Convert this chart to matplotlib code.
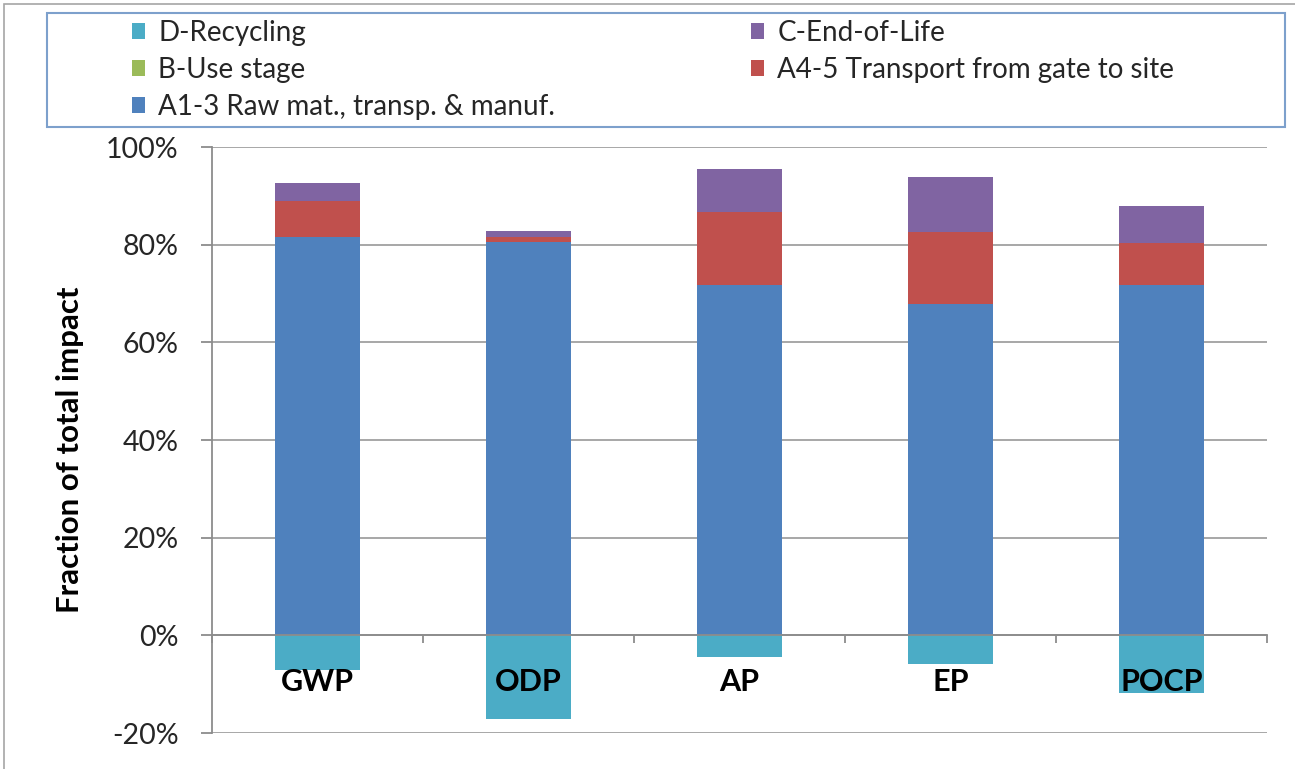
import matplotlib
matplotlib.use("Agg")
import matplotlib.pyplot as plt
from matplotlib.patches import Rectangle
from matplotlib.ticker import FuncFormatter, FixedLocator
import numpy as np

categories = ["GWP", "ODP", "AP", "EP", "POCP"]
a13_raw = [81.6, 80.5, 71.7, 67.8, 71.7]
a45_transport = [7.3, 1.1, 14.9, 14.8, 8.7]
b_use = [0.0, 0.0, 0.0, 0.0, 0.0]
c_eol = [3.7, 1.2, 8.9, 11.3, 7.5]
d_recycling = [-7.2, -17.2, -4.5, -5.9, -11.9]

series_labels = {
    "d": "D-Recycling",
    "c": "C-End-of-Life",
    "b": "B-Use stage",
    "a45": "A4-5 Transport from gate to site",
    "a13": "A1-3 Raw mat., transp. & manuf.",
}
colors = {"a13": "#4F81BD", "a45": "#C0504D", "b": "#9BBB59",
          "c": "#8064A2", "d": "#4BACC6"}

plt.rcParams["font.family"] = ["Lato", "DejaVu Sans"]

W, H = 1295, 769
fig = plt.figure(figsize=(W / 100, H / 100), dpi=100)
ax = fig.add_axes([212 / W, 1 - 733 / H, (1267 - 212) / W, (733 - 147) / H])

x = np.arange(len(categories))
width = 0.4
a13 = np.array(a13_raw)
a45 = np.array(a45_transport)
b = np.array(b_use)
c = np.array(c_eol)
d = np.array(d_recycling)

bars = {}
bars["a13"] = ax.bar(x, a13, width, color=colors["a13"], zorder=2)
bars["a45"] = ax.bar(x, a45, width, bottom=a13, color=colors["a45"], zorder=2)
bars["b"] = ax.bar(x, b, width, bottom=a13 + a45, color=colors["b"], zorder=2)
bars["c"] = ax.bar(x, c, width, bottom=a13 + a45 + b, color=colors["c"], zorder=2)
bars["d"] = ax.bar(x, d, width, color=colors["d"], zorder=2)

ax.set_xlim(-0.5, len(categories) - 0.5)
ax.set_ylim(-20, 100)
ax.set_yticks(np.arange(-20, 101, 20))
ax.yaxis.set_major_formatter(FuncFormatter(lambda v, p: f"{v:.0f}%"))
ax.grid(axis="y", color="#A0A0A0", linewidth=1.3, zorder=0)
ax.set_axisbelow(True)

for s in ["top", "right"]:
    ax.spines[s].set_visible(False)
ax.spines["left"].set_color("#8C8C8C")
ax.spines["left"].set_linewidth(1.3)
ax.spines["bottom"].set_position(("data", 0))
ax.spines["bottom"].set_color("#8C8C8C")
ax.spines["bottom"].set_linewidth(1.3)
ax.spines["bottom"].set_zorder(3)

ax.tick_params(axis="y", direction="out", length=8, color="#8C8C8C", width=1.3,
               labelsize=20.5, labelcolor="#262626", pad=16)
ax.xaxis.set_major_locator(FixedLocator(np.arange(-0.5, len(categories) - 0.4, 1.0)))
ax.tick_params(axis="x", direction="out", length=6, color="#8C8C8C", width=1.3,
               labelbottom=False)

for xi, name in zip(x, categories):
    ax.text(xi, -11.5, name, ha="center", va="baseline", fontsize=22,
            fontweight="bold", color="black", zorder=5)

fig.text(70 / W, 1 - 450 / H, "Fraction of total impact", rotation=90,
         ha="center", va="center", fontsize=22.5, fontweight="bold", color="black")

# legend frame
fig.patches.append(Rectangle((47 / W, 1 - 127 / H), (1285 - 47) / W, (127 - 13) / H,
                             transform=fig.transFigure, fill=False,
                             edgecolor="#7DA0CC", linewidth=1.5))

leg_kw = dict(frameon=False, fontsize=20, handlelength=0.45, handleheight=0.5,
              handletextpad=0.5, labelspacing=0.4, borderpad=0, borderaxespad=0,
              labelcolor="#262626")
fig.legend([bars[k] for k in ["d", "b", "a13"]],
           [series_labels[k] for k in ["d", "b", "a13"]],
           loc="upper left", bbox_to_anchor=(132 / W, 1 - 20 / H), **leg_kw)
fig.legend([bars[k] for k in ["c", "a45"]],
           [series_labels[k] for k in ["c", "a45"]],
           loc="upper left", bbox_to_anchor=(751 / W, 1 - 20 / H), **leg_kw)

# outer frame
fig.patches.append(Rectangle((4 / W, -0.01), 1.1, 1 - 4 / H + 0.01,
                             transform=fig.transFigure, fill=False,
                             edgecolor="#A6A6A6", linewidth=1.2))

fig.savefig("out.png", dpi=100)
